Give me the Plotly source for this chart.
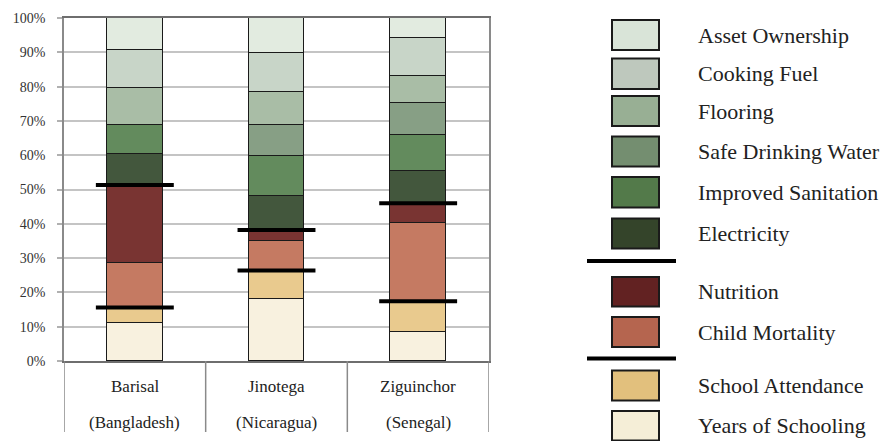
import plotly.graph_objects as go

# ---- data ----
regions = ["Barisal", "Jinotega", "Ziguinchor"]
countries = ["(Bangladesh)", "(Nicaragua)", "(Senegal)"]

# stacked from bottom to top (percent contributions)
series_names = ["Years of Schooling", "School Attendance", "Child Mortality", "Nutrition",
                "Electricity", "Improved Sanitation", "Safe Drinking Water", "Flooring",
                "Cooking Fuel", "Asset Ownership"]
years_of_schooling = [11.0, 18.0, 8.5]
school_attendance = [4.6, 8.4, 8.9]
child_mortality = [13.0, 8.6, 22.9]
nutrition = [22.7, 3.2, 5.7]
electricity = [9.1, 10.0, 9.3]
improved_sanitation = [8.3, 11.5, 10.5]
safe_drinking_water = [0.0, 9.0, 9.4]
flooring = [10.8, 9.6, 7.8]
cooking_fuel = [11.1, 11.6, 11.3]
asset_ownership = [9.4, 10.1, 5.7]

series_values = [years_of_schooling, school_attendance, child_mortality, nutrition,
                 electricity, improved_sanitation, safe_drinking_water, flooring,
                 cooking_fuel, asset_ownership]

bar_colors = ["#F8F1DF", "#E9CA8E", "#C57A62", "#793432", "#43573D",
              "#638B5D", "#879F85", "#A9BDA6", "#C8D5C8", "#E2EBE0"]
swatch_colors = ["#F5EED7", "#E2C07D", "#B5654F", "#622222", "#34442A",
                 "#537A4A", "#748E70", "#98AF94", "#BEC8BD", "#D9E4D8"]

y_tick_vals = [0, 10, 20, 30, 40, 50, 60, 70, 80, 90, 100]
y_tick_text = ["0%", "10%", "20%", "30%", "40%", "50%", "60%", "70%", "80%", "90%", "100%"]

FONT = "Liberation Serif"
W, H = 885, 441
L, R, T, B = 64, 396, 18, 80
PW, PH = W - L - R, H - T - B


def px_x(p):
    return (p - L) / PW


def px_y(p):
    return (H - B - p) / PH


fig = go.Figure()
xs = list(range(len(regions)))
for name, vals, col in zip(series_names, series_values, bar_colors):
    fig.add_trace(go.Bar(x=xs, y=vals, name=name, width=0.395,
                         marker=dict(color=col, line=dict(color="#1a1a1a", width=1)),
                         showlegend=False))

# dimension boundary lines (education | health | living standards)
for i in xs:
    edu = years_of_schooling[i] + school_attendance[i]
    health = edu + child_mortality[i] + nutrition[i]
    for yv in (edu, health):
        fig.add_trace(go.Scatter(x=[i - 0.275, i + 0.275], y=[yv, yv], mode="lines",
                                 line=dict(color="#000000", width=4), showlegend=False,
                                 hoverinfo="skip"))

shapes = []
annotations = []
# category table separators below the plot
for xv in [-0.5, 0.5, 1.5, 2.5]:
    shapes.append(dict(type="line", xref="x", yref="paper", x0=xv, x1=xv,
                       y0=0, y1=px_y(432), line=dict(color="#8a8a8a", width=1.5)))
for i in xs:
    annotations.append(dict(x=i, y=px_y(386.5), xref="x", yref="paper", text=regions[i],
                            showarrow=False, font=dict(family=FONT, size=17, color="#222"),
                            yanchor="middle"))
    annotations.append(dict(x=i, y=px_y(422), xref="x", yref="paper", text=countries[i],
                            showarrow=False, font=dict(family=FONT, size=17, color="#222"),
                            yanchor="middle"))

# custom legend (top to bottom)
legend_rows = [(20, 50), (58.5, 89), (96, 126), (136.5, 166.5), (177, 207.5), (218.5, 248.5),
               (277, 306.5), (317, 347), (370.5, 400.5), (411, 440.5)]
legend_order = list(range(len(series_names)))[::-1]
for (top, bot), idx in zip(legend_rows, legend_order):
    shapes.append(dict(type="rect", xref="paper", yref="paper",
                       x0=px_x(612), x1=px_x(659), y0=px_y(bot), y1=px_y(top),
                       fillcolor=swatch_colors[idx], line=dict(color="#1a1a1a", width=2)))
    annotations.append(dict(x=px_x(696), y=px_y((top + bot) / 2), xref="paper", yref="paper",
                            text=series_names[idx], showarrow=False, xanchor="left",
                            yanchor="middle", font=dict(family=FONT, size=22, color="#222")))
for yl in (261, 358.5):
    shapes.append(dict(type="line", xref="paper", yref="paper", x0=px_x(587), x1=px_x(676),
                       y0=px_y(yl), y1=px_y(yl), line=dict(color="#000", width=4)))

fig.update_layout(
    width=W, height=H, autosize=False,
    margin=dict(l=L, r=R, t=T, b=B, pad=0),
    barmode="stack", bargap=0,
    plot_bgcolor="white", paper_bgcolor="white",
    font=dict(family=FONT, color="#222"),
    shapes=shapes, annotations=annotations,
    xaxis=dict(range=[-0.5, 2.5], showticklabels=False, showgrid=False, zeroline=False,
               showline=True, linecolor="#6e6e6e", linewidth=1.5, mirror=True, ticks=""),
    yaxis=dict(range=[0, 100], tickmode="array", tickvals=y_tick_vals, ticktext=y_tick_text,
               showgrid=True, gridcolor="#c4c4c4", gridwidth=1.5, zeroline=False,
               showline=True, linecolor="#8a8a8a", linewidth=1.5, mirror=True,
               ticks="outside", ticklen=5, tickcolor="#b0b0b0", tickwidth=1.5,
               ticklabelstandoff=9,
               tickfont=dict(family=FONT, size=14, color="#333")),
)
fig.write_html("out.html", config={"displayModeBar": False},
               post_script="document.body.style.margin='0';document.body.style.overflow='hidden';")
